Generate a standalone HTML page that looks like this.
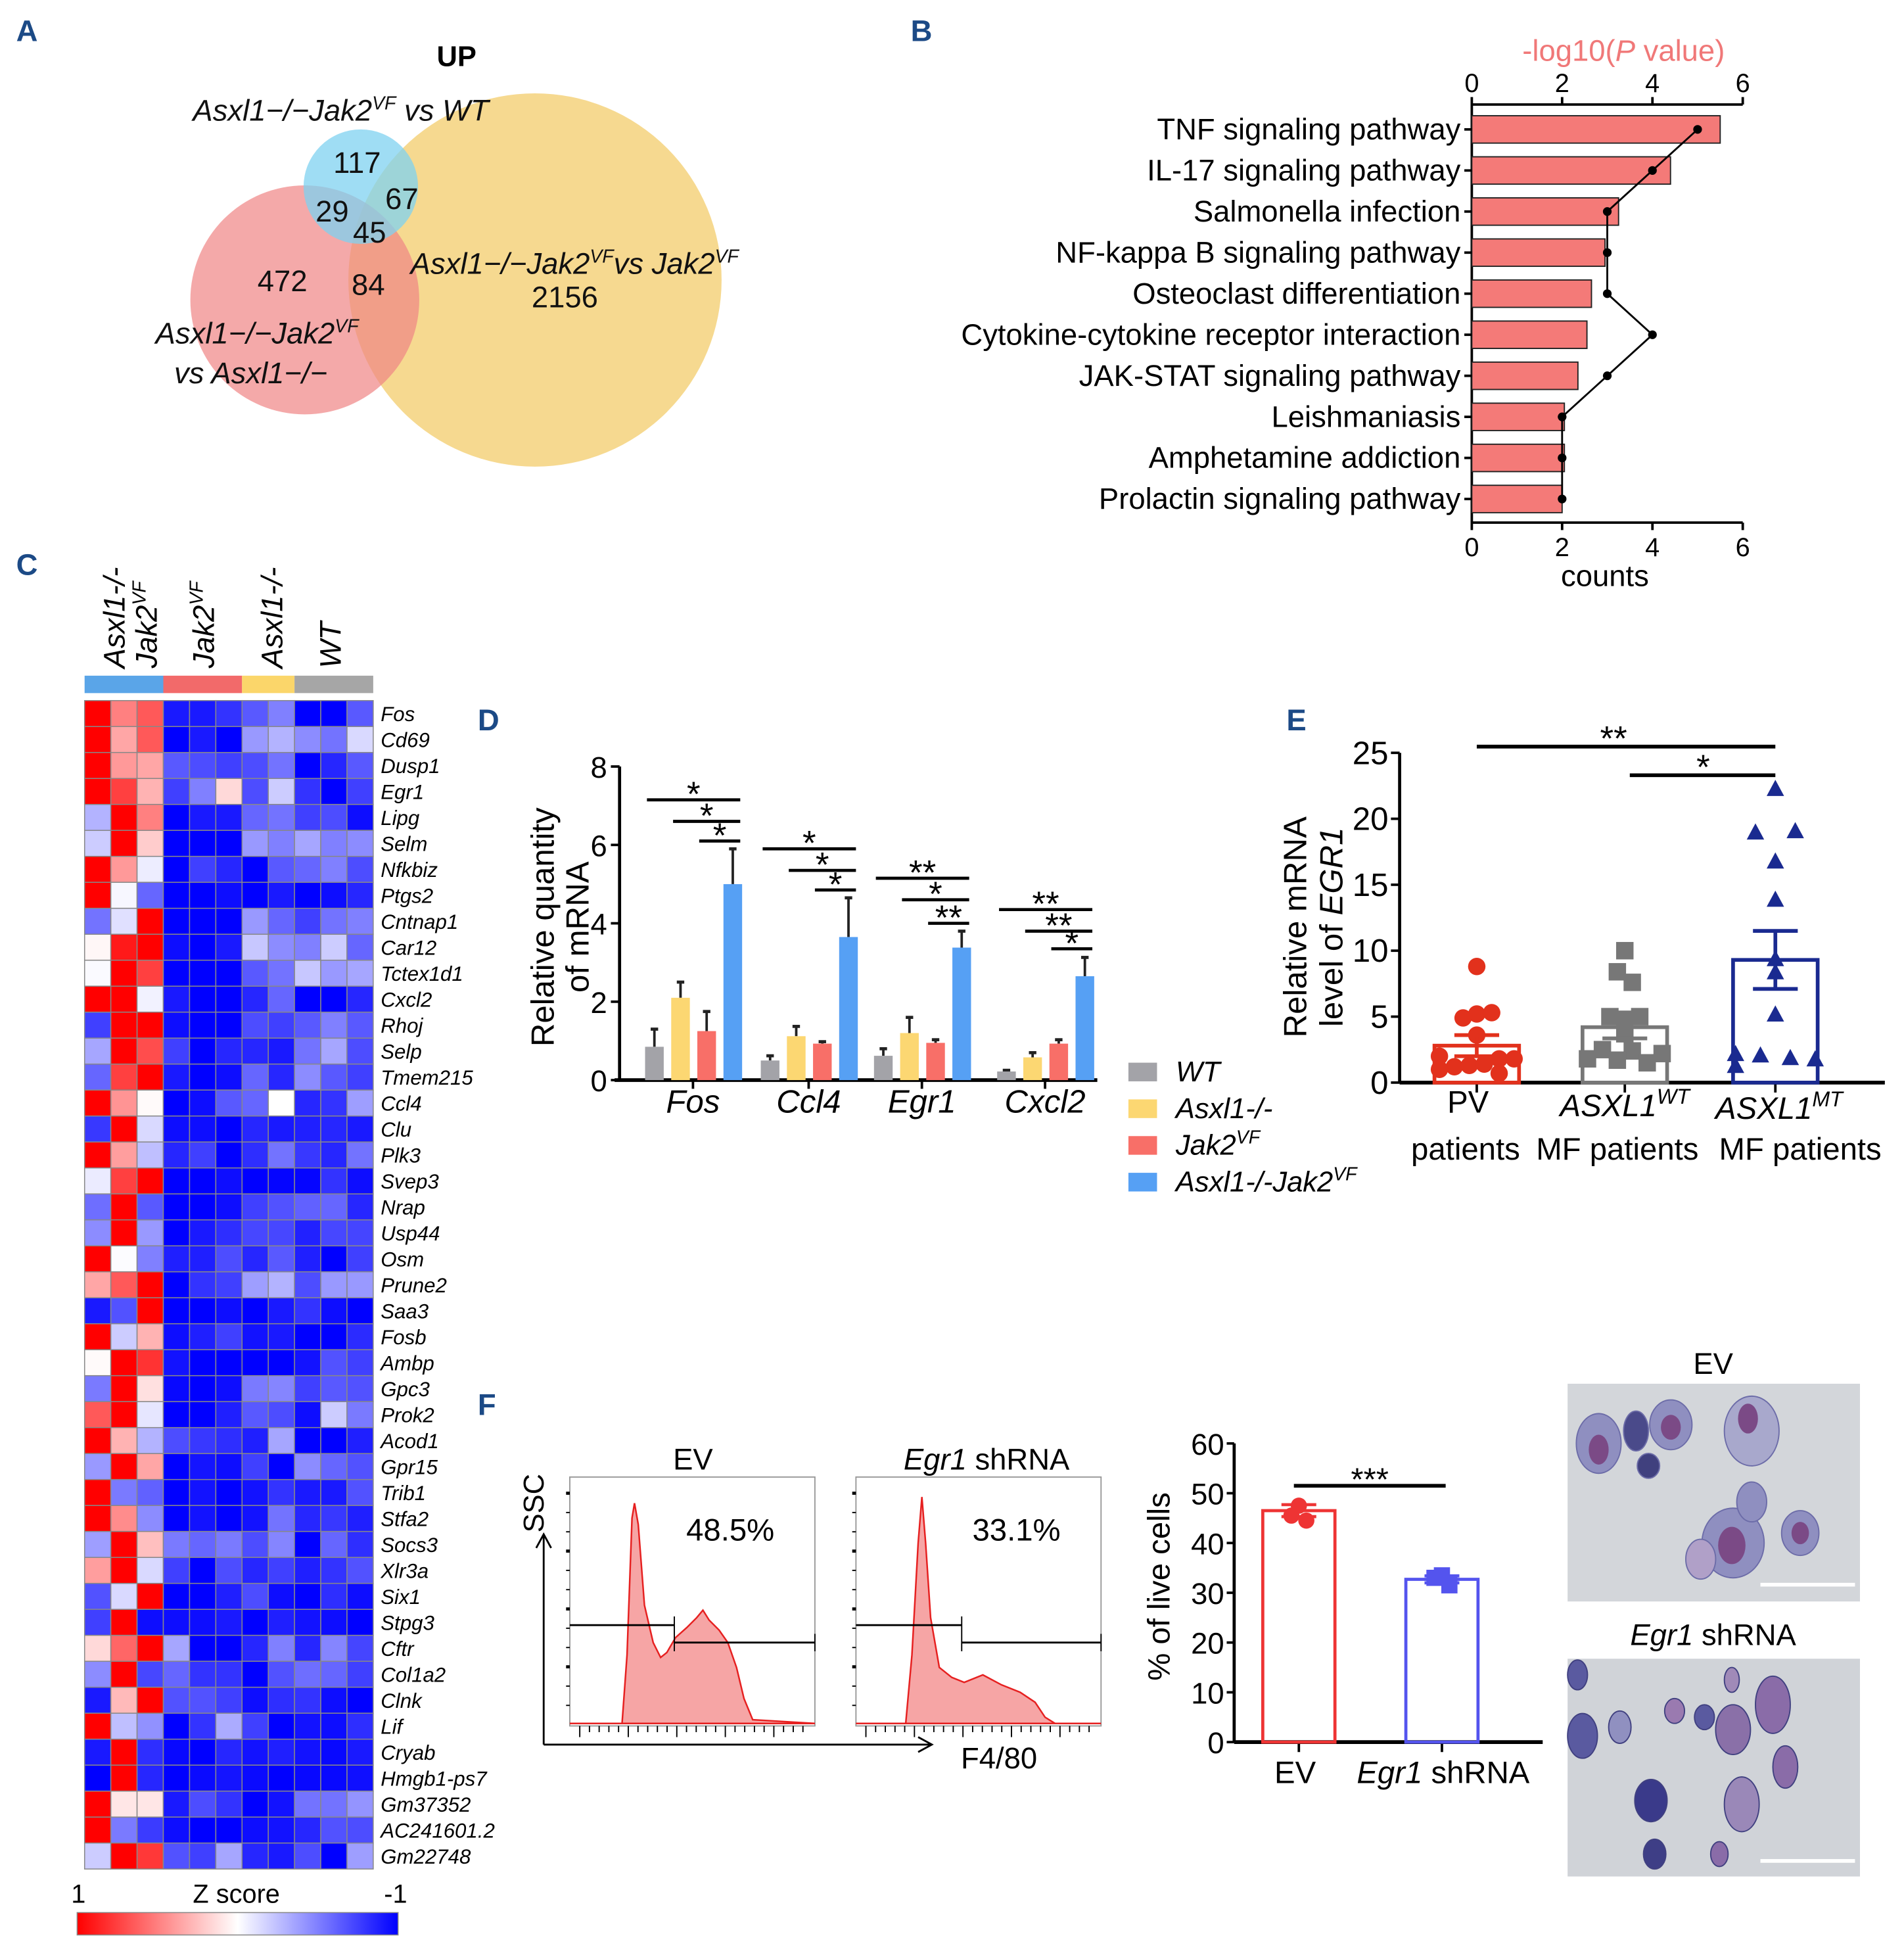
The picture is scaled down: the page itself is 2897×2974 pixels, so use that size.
<!DOCTYPE html>
<html><head><meta charset="utf-8"><style>
html,body{margin:0;padding:0;background:#fff}
svg{display:block}
text{font-family:"Liberation Sans",Arial,sans-serif}
.it{font-style:italic}
</style></head><body>
<svg id="fig" width="2897" height="2974" viewBox="0 0 1530.4 1571.1" preserveAspectRatio="none" xmlns="http://www.w3.org/2000/svg">
<rect x="0" y="0" width="1530.4" height="1571.1" fill="#fff"/>
<g fill="#1c4a86" font-weight="bold" font-size="24">
<text x="13" y="33">A</text>
<text x="732" y="33">B</text>
<text x="13" y="462">C</text>
<text x="384" y="587">D</text>
<text x="1034" y="587">E</text>
<text x="384" y="1137">F</text>
</g>
<g>
<text x="367" y="53" font-size="23" font-weight="bold" text-anchor="middle">UP</text>
<circle cx="430" cy="225" r="150" fill="#f5d27c" fill-opacity="0.85"/>
<circle cx="245" cy="241" r="92" fill="#f08585" fill-opacity="0.7"/>
<circle cx="290" cy="150" r="46" fill="#7fd1f0" fill-opacity="0.75"/>
<g font-size="24" fill="#111">
<text x="155" y="97" class="it">Asxl1−/−Jak2<tspan font-size="15" dy="-9">VF</tspan><tspan dy="9"> vs WT</tspan></text>
<text x="287" y="139" text-anchor="middle">117</text>
<text x="267" y="178" text-anchor="middle">29</text>
<text x="323" y="168" text-anchor="middle">67</text>
<text x="297" y="195" text-anchor="middle">45</text>
<text x="227" y="234" text-anchor="middle">472</text>
<text x="296" y="237" text-anchor="middle">84</text>
<text x="330" y="220" class="it">Asxl1−/−Jak2<tspan font-size="15" dy="-9">VF</tspan><tspan dy="9">vs Jak2</tspan><tspan font-size="15" dy="-9">VF</tspan></text>
<text x="454" y="247" text-anchor="middle">2156</text>
<text x="125" y="276" class="it">Asxl1−/−Jak2<tspan font-size="15" dy="-9">VF</tspan></text>
<text x="140" y="308" class="it">vs Asxl1−/−</text>
</g>
</g>
<g id="panelB"></g>
<g id="panelC"></g>
<g id="panelD"></g>
<g id="panelE"></g>
<g id="panelF"></g>
<g>
<text x="1377" y="1104" font-size="24" text-anchor="middle">EV</text>
<rect x="1260" y="1112" width="235" height="175" fill="#d3d6da"/>
<g fill="#8f8fc0" stroke="#6c6ca8" stroke-width="1">
<ellipse cx="1285" cy="1160" rx="18" ry="24"/><ellipse cx="1315" cy="1150" rx="10" ry="16" fill="#4a4a8a"/><ellipse cx="1343" cy="1145" rx="17" ry="20"/><ellipse cx="1325" cy="1178" rx="9" ry="10" fill="#40407e"/><ellipse cx="1408" cy="1150" rx="22" ry="28" fill="#a8a8cc"/><ellipse cx="1393" cy="1240" rx="25" ry="28"/><ellipse cx="1408" cy="1207" rx="12" ry="16"/><ellipse cx="1447" cy="1232" rx="15" ry="18"/><ellipse cx="1367" cy="1253" rx="12" ry="16" fill="#b0a0c8"/>
</g>
<g fill="#7b4a86"><ellipse cx="1285" cy="1165" rx="8" ry="12"/><ellipse cx="1343" cy="1147" rx="8" ry="10"/><ellipse cx="1405" cy="1140" rx="8" ry="12"/><ellipse cx="1392" cy="1242" rx="11" ry="15"/><ellipse cx="1447" cy="1232" rx="7" ry="9"/></g>
<rect x="1415" y="1272" width="76" height="3" fill="#fff"/>
<text x="1377" y="1322" font-size="24" text-anchor="middle"><tspan class="it">Egr1</tspan> shRNA</text>
<rect x="1260" y="1333" width="235" height="175" fill="#d0d3d8"/>
<g fill="#5a5aa0" stroke="#404080" stroke-width="1">
<ellipse cx="1268" cy="1346" rx="8" ry="12"/><ellipse cx="1272" cy="1395" rx="12" ry="18"/><ellipse cx="1302" cy="1388" rx="9" ry="13" fill="#9090c0"/><ellipse cx="1346" cy="1375" rx="8" ry="10" fill="#9a7ab0"/><ellipse cx="1370" cy="1380" rx="8" ry="10"/><ellipse cx="1393" cy="1390" rx="14" ry="20" fill="#8a70a8"/><ellipse cx="1425" cy="1370" rx="14" ry="23" fill="#8a6ca8"/><ellipse cx="1435" cy="1420" rx="10" ry="17" fill="#8a6ca8"/><ellipse cx="1327" cy="1447" rx="13" ry="17" fill="#3a3a8a"/><ellipse cx="1400" cy="1450" rx="14" ry="22" fill="#9a88b8"/><ellipse cx="1330" cy="1490" rx="9" ry="12" fill="#3e3e86"/><ellipse cx="1382" cy="1490" rx="7" ry="10" fill="#8a6ca8"/><ellipse cx="1392" cy="1350" rx="6" ry="10" fill="#a08ab8"/>
</g>
<rect x="1415" y="1494" width="76" height="3" fill="#fff"/>
</g>
</svg>
<script>
const pathways = ["TNF signaling pathway","IL-17 signaling pathway","Salmonella infection","NF-kappa B signaling pathway","Osteoclast differentiation","Cytokine-cytokine receptor interaction","JAK-STAT signaling pathway","Leishmaniasis","Amphetamine addiction","Prolactin signaling pathway"];
const pathwayPvals = [5.5,4.4,3.25,2.95,2.65,2.55,2.35,2.05,2.05,2.0];
const pathwayCounts = [5,4,3,3,3,4,3,2,2,2];
const bTicks = [0,2,4,6];
const genes = ["Fos","Cd69","Dusp1","Egr1","Lipg","Selm","Nfkbiz","Ptgs2","Cntnap1","Car12","Tctex1d1","Cxcl2","Rhoj","Selp","Tmem215","Ccl4","Clu","Plk3","Svep3","Nrap","Usp44","Osm","Prune2","Saa3","Fosb","Ambp","Gpc3","Prok2","Acod1","Gpr15","Trib1","Stfa2","Socs3","Xlr3a","Six1","Stpg3","Cftr","Col1a2","Clnk","Lif","Cryab","Hmgb1-ps7","Gm37352","AC241601.2","Gm22748"];
const zscores = [
[1,.5,.65,-.9,-.9,-.8,-.65,-.5,-1,-1,-.65],
[1,.35,.65,-1,-.9,-1,-.4,-.3,-.45,-.55,-.15],
[1,.4,.35,-.65,-.7,-.75,-.7,-.55,-1,-.85,-.65],
[1,.75,.3,-.75,-.5,.15,-.7,-.2,-.8,-1,-.75],
[-.3,1,.5,-1,-.9,-.9,-.6,-.55,-.75,-.7,-.95],
[-.2,1,.2,-1,-1,-1,-.4,-.5,-.35,-.5,-.45],
[1,.4,-.07,-1,-.75,-.85,-1,-.65,-.6,-.5,-.7],
[1,-.03,-.6,-1,-1,-.95,-1,-.9,-1,-.95,-.85],
[-.55,-.12,1,-1,-1,-1,-.4,-.6,-.75,-.55,-.5],
[.03,.9,1,-.95,-1,-.9,-.22,-.45,-.5,-.2,-.6],
[-.02,1,.75,-1,-1,-1,-.65,-.55,-.22,-.4,-.35],
[1,1,-.05,-.9,-1,-1,-.85,-.6,-1,-1,-.85],
[-.75,1,1,-.95,-1,-1,-.7,-.75,-.65,-.5,-.65],
[-.35,1,.7,-.75,-1,-.85,-.85,-.9,-.55,-.35,-.7],
[-.6,.75,1,-.9,-1,-.95,-.6,-.85,-.45,-.65,-.75],
[1,.42,.02,-1,-.95,-.65,-.6,0,-.85,-.8,-.38],
[-.78,1,-.15,-.95,-.95,-1,-.85,-.9,-.88,-.85,-.9],
[1,.38,-.25,-.85,-.75,-1,-.82,-.55,-.78,-.85,-.55],
[-.08,.75,1,-1,-1,-.95,-1,-.98,-.98,-.8,-.95],
[-.57,1,-.65,-1,-1,-.95,-.75,-.68,-.62,-.6,-.85],
[-.45,1,-.4,-1,-.9,-.82,-.72,-.72,-.87,-.72,-.73],
[1,-.01,-.5,-.88,-.88,-.7,-.85,-.65,-.88,-1,-.75],
[.35,.65,1,-1,-.8,-.75,-.38,-.3,-.7,-.4,-.4],
[-.9,-.68,1,-1,-1,-.95,-1,-.9,-.8,-.95,-1],
[1,-.2,.3,-.95,-.88,-.75,-.93,-.9,-1,-1,-.83],
[.02,1,.8,-.93,-1,-1,-1,-1,-.93,-.68,-.75],
[-.52,1,.12,-.97,-1,-.95,-.52,-.48,-.75,-.65,-.68],
[.65,1,-.1,-1,-1,-.88,-.65,-.7,-.95,-.2,-.52],
[1,.3,-.3,-.7,-.78,-.82,-.88,-.35,-1,-1,-.88],
[-.4,1,.35,-1,-.92,-.95,-.75,-1,-.45,-.6,-.68],
[1,-.52,-.62,-1,-.93,-1,-.93,-.8,-.9,-.9,-.68],
[1,.45,-.45,-1,-.93,-1,-.93,-.55,-.85,-.78,-.88],
[-.38,1,.25,-.52,-.6,-.52,-.7,-.48,-1,-.6,-.82],
[.38,1,-.15,-.75,-1,-.7,-.85,-.75,-.88,-.8,-.68],
[-.68,-.15,1,-1,-1,-.88,-.7,-.95,-1,-.82,-.95],
[-.75,1,-.95,-.95,-.95,-.9,-1,-.88,-.93,-.95,-1],
[.15,.6,1,-.35,-1,-1,-.85,-.5,-.85,-.48,-.73],
[-.45,1,-.72,-.6,-.8,-.8,-1,-.68,-.57,-.6,-.75],
[-.9,.27,1,-.68,-.68,-.75,-.95,-.82,-.8,-.95,-1],
[1,-.25,-.43,-1,-.8,-.33,-.75,-1,-.93,-.95,-.82],
[-.9,1,-.82,-.97,-1,-.85,-.93,-.88,-.93,-.97,-.9],
[-1,1,-.85,-1,-.96,-.92,-.96,-1,-.97,-.97,-.94],
[1,.1,.1,-.9,-.7,-.8,-1,-.93,-.55,-.55,-.42],
[1,-.52,-.77,-.95,-1,-1,-.95,-.93,-.85,-.68,-.7],
[-.2,1,.78,-.68,-.75,-.35,-.85,-.9,-.7,-1,-.38]];
const groupSizes = [3,3,2,3];
const dGenes = ["Fos","Ccl4","Egr1","Cxcl2"];
const dSeries = ["WT","Asxl1-/-","Jak2VF","Asxl1-/-Jak2VF"];
const dWT = [0.85,0.5,0.62,0.22];
const dAsxl1 = [2.1,1.12,1.2,0.58];
const dJak2 = [1.25,0.93,0.95,0.93];
const dDouble = [5.0,3.65,3.38,2.65];
const dErrWT = [0.45,0.12,0.18,0.03];
const dErrAsxl1 = [0.4,0.25,0.4,0.12];
const dErrJak2 = [0.5,0.05,0.08,0.1];
const dErrDouble = [0.9,1.0,0.42,0.48];
const dSigLevels = [[7.15,6.6,6.1],[5.9,5.35,4.85],[5.15,4.6,4.0],[4.35,3.8,3.35]];
const dSigLabels = [["*","*","*"],["*","*","*"],["**","*","**"],["**","**","*"]];
const dTicks = [0,2,4,6,8];
const eGroups = ["PV","WT","MT"];
const eMeans = [2.8,4.2,9.3];
const eSEM = [0.8,0.85,2.2];
const ePV = [8.8,4.9,5.2,5.3,3.6,2.0,1.8,1.2,1.3,1.4,1.8,1.0,0.7];
const eWT = [10,8.4,7.6,5.0,5.0,4.8,3.7,2.5,2.4,2.2,1.8,1.7,1.5];
const eMT = [22.2,18.9,19.0,16.7,13.8,9.3,8.3,5.1,2.1,2.0,1.8,1.7,1.2];
const eTicks = [0,5,10,15,20,25];
const fGroups = ["EV","Egr1 shRNA"];
const fMeans = [46.5,32.7];
const fSEM = [1.2,0.7];
const fEV = [47.5,45.5,44.5];
const fSh = [33.5,33.0,31.5];
const fTicks = [0,10,20,30,40,50,60];
const flowPct = ["48.5%","33.1%"];

const NS="http://www.w3.org/2000/svg";
function mk(parent,tag,attrs,txt){const e=document.createElementNS(NS,tag);for(const k in attrs)e.setAttribute(k,attrs[k]);if(txt!==undefined)e.textContent=txt;parent.appendChild(e);return e;}

(function(){
const g=document.getElementById('panelB');
const x0=1183,sx=36.3,yTop=84,yBot=420;
const X=v=>x0+v*sx;
const rowY=i=>104+i*33;
let t=mk(g,'text',{x:1305,y:49,'font-size':24,fill:'#f07878','text-anchor':'middle'});
t.innerHTML='-log10(<tspan font-style="italic">P</tspan> value)';


mk(g,'line',{x1:X(0),y1:yTop,x2:X(6),y2:yTop,stroke:'#000','stroke-width':2});
mk(g,'line',{x1:X(0),y1:yBot,x2:X(6),y2:yBot,stroke:'#000','stroke-width':2});
mk(g,'line',{x1:X(0),y1:yTop,x2:X(0),y2:yBot,stroke:'#000','stroke-width':2});
bTicks.forEach(v=>{
 mk(g,'line',{x1:X(v),y1:yTop,x2:X(v),y2:yTop-6,stroke:'#000','stroke-width':2});
 mk(g,'line',{x1:X(v),y1:yBot,x2:X(v),y2:yBot+6,stroke:'#000','stroke-width':2});
 const a=mk(g,'text',{x:X(v),y:yTop-10,'font-size':21,'text-anchor':'middle'},String(v));
 
 
 const b=mk(g,'text',{x:X(v),y:yBot+27,'font-size':21,'text-anchor':'middle'},String(v));
 
 
});
const c=mk(g,'text',{x:1290,y:471,'font-size':24,'text-anchor':'middle'},'counts');


pathways.forEach((p,i)=>{
 const r=mk(g,'rect',{x:X(0),y:rowY(i)-11,width:pathwayPvals[i]*sx,height:22,fill:'#f47a78',stroke:'#222','stroke-width':1});
 
 
 mk(g,'line',{x1:X(0)-6,y1:rowY(i),x2:X(0),y2:rowY(i),stroke:'#000','stroke-width':2});
 const l=mk(g,'text',{x:X(0)-9,y:rowY(i)+8,'font-size':24,'text-anchor':'end'},p);
 
 
});
let d='';pathwayCounts.forEach((v,i)=>{d+=(i?'L':'M')+X(v)+' '+rowY(i);});
const pl=mk(g,'path',{d:d,fill:'none',stroke:'#000','stroke-width':1.5});


pathwayCounts.forEach((v,i)=>{const p=mk(g,'circle',{cx:X(v),cy:rowY(i),r:3.5,fill:'#000'});
 
 });
})();

(function(){
const g=document.getElementById('panelC');
const x0=68,y0=563,cw=232/11,rh=939/45;
function col(v){if(v>=0){const c=Math.round(255*(1-v));return `rgb(255,${c},${c})`;}const c=Math.round(255*(1+v));return `rgb(${c},${c},255)`;}
const grpCol=['#5aa5e8','#f26a6a','#fbd66a','#a6a6a6'];
let cx=x0;groupSizes.forEach((n,k)=>{const r=mk(g,'rect',{x:cx,y:543,width:n*cw,height:14,fill:grpCol[k]});
 
 cx+=n*cw;});
zscores.forEach((row,i)=>row.forEach((v,j)=>{
 const r=mk(g,'rect',{x:x0+j*cw,y:y0+i*rh,width:cw,height:rh,fill:col(v),stroke:'#888','stroke-width':0.8});
 
 
}));
genes.forEach((gn,i)=>{const t=mk(g,'text',{x:306,y:y0+i*rh+rh/2+6,'font-size':16.5,'font-style':'italic'},gn);
 
 });
const hdr=[[100,'Asxl1-/-',''],[126,'Jak2','VF'],[172,'Jak2','VF'],[227,'Asxl1-/-',''],[274,'WT','']];
hdr.forEach(h=>{const t=mk(g,'text',{x:0,y:0,'font-size':24,'font-style':'italic',transform:`translate(${h[0]},537) rotate(-90)`});
 t.innerHTML=h[1]+(h[2]?`<tspan font-size="15" dy="-9">${h[2]}</tspan>`:'');
 
 });
const defs=mk(g,'defs',{});const lg=mk(defs,'linearGradient',{id:'zg',x1:0,x2:1,y1:0,y2:0});
mk(lg,'stop',{offset:0,'stop-color':'#ff0000'});mk(lg,'stop',{offset:0.5,'stop-color':'#ffffff'});mk(lg,'stop',{offset:1,'stop-color':'#0000ff'});
const lr=mk(g,'rect',{x:62,y:1537,width:258,height:18,fill:'url(#zg)',stroke:'#888','stroke-width':0.8});


[[63,'1'],[190,'Z score'],[318,'-1']].forEach(a=>{const t=mk(g,'text',{x:a[0],y:1529,'font-size':21,'text-anchor':'middle'},a[1]);
 
 });
})();

(function(){
const g=document.getElementById('panelD');
const ax=498,y0=868,sy=31.5,Y=v=>y0-v*sy;
const centers=[557,650,741,840];const offs=[-31,-10,11,32];
const cols=['#a3a3a8','#fcd772','#f86f68','#56a0f4'];
const vals=[dWT,dAsxl1,dJak2,dDouble],errs=[dErrWT,dErrAsxl1,dErrJak2,dErrDouble];
mk(g,'line',{x1:ax,y1:Y(8),x2:ax,y2:y0,stroke:'#000','stroke-width':2.5});
mk(g,'line',{x1:ax-4,y1:y0,x2:882,y2:y0,stroke:'#000','stroke-width':3});
dTicks.forEach(v=>{mk(g,'line',{x1:ax-7,y1:Y(v),x2:ax,y2:Y(v),stroke:'#000','stroke-width':2});
 const t=mk(g,'text',{x:ax-10,y:Y(v)+9,'font-size':24,'text-anchor':'end'},String(v));
 
 });
const yl=mk(g,'text',{x:0,y:0,'font-size':26,'text-anchor':'middle',transform:'translate(445,745) rotate(-90)'},'Relative quantity');


const yl2=mk(g,'text',{x:0,y:0,'font-size':26,'text-anchor':'middle',transform:'translate(473,745) rotate(-90)'},'of mRNA');


dGenes.forEach((gn,i)=>{
 mk(g,'line',{x1:centers[i],y1:y0,x2:centers[i],y2:y0+7,stroke:'#000','stroke-width':2});
 const t=mk(g,'text',{x:centers[i],y:894,'font-size':26,'font-style':'italic','text-anchor':'middle'},gn);
 
 
 vals.forEach((s,k)=>{
  const bx=centers[i]+offs[k];
  mk(g,'line',{x1:bx,y1:Y(s[i]),x2:bx,y2:Y(s[i]+errs[k][i]),stroke:'#222','stroke-width':2});
  mk(g,'line',{x1:bx-3,y1:Y(s[i]+errs[k][i]),x2:bx+3,y2:Y(s[i]+errs[k][i]),stroke:'#222','stroke-width':2.5});
  const r=mk(g,'rect',{x:bx-7.5,y:Y(s[i]),width:15,height:s[i]*sy,fill:cols[k]});
  
  
 });
 dSigLevels[i].forEach((lv,m)=>{
  const xs=centers[i]+offs[m]-6,xe=centers[i]+offs[3]+6;
  const l=mk(g,'line',{x1:xs,y1:Y(lv),x2:xe,y2:Y(lv),stroke:'#000','stroke-width':2.5});
  
  
  const s=mk(g,'text',{x:(xs+xe)/2,y:Y(lv)+5,'font-size':28,'text-anchor':'middle'},dSigLabels[i][m]);
  
  
 });
});
const labs=['WT','Asxl1-/-','Jak2<tspan font-size="15" dy="-9">VF</tspan>','Asxl1-/-Jak2<tspan font-size="15" dy="-9">VF</tspan>'];
labs.forEach((l,k)=>{const yy=865+k*29.5;
 const r=mk(g,'rect',{x:907,y:yy-11,width:23,height:15,fill:cols[k]});
 
 
 const t=mk(g,'text',{x:945,y:yy+4,'font-size':23,'font-style':'italic'});t.innerHTML=l;
 
 });
})();

(function(){
const g=document.getElementById('panelE');
const ax=1125,y0=870,sy=10.6,Y=v=>y0-v*sy;
const xs=[1187,1306,1427];const cols=['#e2311c','#777777','#1a2a90'];
const pts=[ePV,eWT,eMT];
const jit=[[0,-11,0,12,0,-30,18,-18,-6,6,30,-30,18],[0,-6,6,-12,12,0,0,-18,6,30,-30,-6,18],[0,-16,16,0,0,0,0,0,-32,-12,12,32,-32]];
mk(g,'line',{x1:ax,y1:Y(25),x2:ax,y2:y0,stroke:'#000','stroke-width':2.5});
mk(g,'line',{x1:ax,y1:y0,x2:1515,y2:y0,stroke:'#000','stroke-width':3});
eTicks.forEach(v=>{mk(g,'line',{x1:ax-7,y1:Y(v),x2:ax,y2:Y(v),stroke:'#000','stroke-width':2});
 const t=mk(g,'text',{x:ax-9,y:Y(v)+9,'font-size':26,'text-anchor':'end'},String(v));
 
 });
const t1=mk(g,'text',{x:0,y:0,'font-size':26,'text-anchor':'middle',transform:'translate(1050,745) rotate(-90)'},'Relative mRNA');


const t2=mk(g,'text',{x:0,y:0,'font-size':26,'text-anchor':'middle',transform:'translate(1079,745) rotate(-90)'});
t2.innerHTML='level of <tspan font-style="italic">EGR1</tspan>';


eGroups.forEach((gr,i)=>{
 mk(g,'line',{x1:xs[i],y1:y0,x2:xs[i],y2:y0+8,stroke:'#000','stroke-width':2});
 const b=mk(g,'rect',{x:xs[i]-34,y:Y(eMeans[i]),width:68,height:eMeans[i]*sy,fill:'none',stroke:cols[i],'stroke-width':3});
 
 
 pts[i].forEach((v,k)=>{
  const px=xs[i]+jit[i][k];const py=Y(v);let m;
  if(i===0)m=mk(g,'circle',{cx:px,cy:py,r:7,fill:cols[0]});
  else if(i===1)m=mk(g,'rect',{x:px-7,y:py-7,width:14,height:14,fill:cols[1]});
  else m=mk(g,'path',{d:`M${px} ${py-8}L${px+7} ${py+5}L${px-7} ${py+5}Z`,fill:cols[2]});
  
  
 });
 const hi=Y(eMeans[i]+eSEM[i]),lo=Y(eMeans[i]-eSEM[i]);
 mk(g,'line',{x1:xs[i],y1:hi,x2:xs[i],y2:lo,stroke:cols[i],'stroke-width':3});
 mk(g,'line',{x1:xs[i]-18,y1:hi,x2:xs[i]+18,y2:hi,stroke:cols[i],'stroke-width':3});
 mk(g,'line',{x1:xs[i]-18,y1:lo,x2:xs[i]+18,y2:lo,stroke:cols[i],'stroke-width':3});
});
const s1=mk(g,'line',{x1:1187,y1:600,x2:1427,y2:600,stroke:'#000','stroke-width':3});


const s2=mk(g,'line',{x1:1310,y1:623,x2:1427,y2:623,stroke:'#000','stroke-width':3});


mk(g,'text',{x:1297,y:603,'font-size':28,'text-anchor':'middle'},'**');
mk(g,'text',{x:1369,y:626,'font-size':28,'text-anchor':'middle'},'*');
const xl=[[1180,894,'PV'],[1178,932,'patients'],[1300,932,'MF patients'],[1447,932,'MF patients']];
xl.forEach(a=>{const t=mk(g,'text',{x:a[0],y:a[1],'font-size':25,'text-anchor':'middle'},a[2]);
 
 });
const w=mk(g,'text',{x:1306,y:897,'font-size':25,'text-anchor':'middle','font-style':'italic'});w.innerHTML='ASXL1<tspan font-size="17" dy="-10">WT</tspan>';


const m=mk(g,'text',{x:1430,y:899,'font-size':25,'text-anchor':'middle','font-style':'italic'});m.innerHTML='ASXL1<tspan font-size="17" dy="-10">MT</tspan>';


})();

(function(){
const g=document.getElementById('panelF');
const boxes=[458,688];
boxes.forEach((bx,i)=>{
 const r=mk(g,'rect',{x:bx,y:1187,width:197,height:200,fill:'none',stroke:'#999','stroke-width':1});
 
 
 for(let k=0;k<12;k++){mk(g,'line',{x1:bx-3,y1:1200+k*15.5,x2:bx,y2:1200+k*15.5,stroke:'#000','stroke-width':k%3==0?2.5:1});}
 for(let k=0;k<24;k++){const tx=bx+8+k*7.8;mk(g,'line',{x1:tx,y1:1387,x2:tx,y2:1387+(k%5==0?9:5),stroke:'#000','stroke-width':1});}
 const p=mk(g,'text',{x:bx+129,y:1238,'font-size':25,'text-anchor':'middle'},flowPct[i]);
 
 
});
const h1='M458 1385 L500 1385 L504 1330 L508 1220 L510 1208 L513 1225 L518 1290 L525 1320 L531 1332 L536 1328 L543 1316 L552 1308 L560 1300 L565 1294 L570 1302 L578 1310 L585 1320 L592 1340 L598 1365 L605 1382 L655 1385 Z';
const h2='M688 1385 L728 1385 L733 1330 L738 1240 L741 1203 L744 1240 L748 1300 L755 1340 L765 1348 L775 1352 L790 1346 L805 1354 L820 1360 L832 1368 L840 1380 L848 1385 L885 1385 Z';
[h1,h2].forEach(d=>{const p=mk(g,'path',{d:d,fill:'#f6a5a5',stroke:'#e62020','stroke-width':1.3});
 
 });
[[458,542,655],[688,773,885]].forEach(a=>{
 mk(g,'line',{x1:a[0],y1:1306,x2:a[1],y2:1306,stroke:'#000','stroke-width':1.5});
 mk(g,'line',{x1:a[1],y1:1320,x2:a[2],y2:1320,stroke:'#000','stroke-width':1.5});
 mk(g,'line',{x1:a[1],y1:1299,x2:a[1],y2:1327,stroke:'#000','stroke-width':1});
 mk(g,'line',{x1:a[2],y1:1313,x2:a[2],y2:1327,stroke:'#000','stroke-width':1});
});
mk(g,'text',{x:557,y:1181,'font-size':24,'text-anchor':'middle'},'EV');
const st=mk(g,'text',{x:793,y:1181,'font-size':24,'text-anchor':'middle'});st.innerHTML='<tspan font-style="italic">Egr1</tspan> shRNA';
mk(g,'text',{x:0,y:0,'font-size':23,'text-anchor':'middle',transform:'translate(437,1208) rotate(-90)'},'SSC');
mk(g,'path',{d:'M437 1402 L437 1233 M431 1244 L437 1233 L443 1244 M437 1402 L749 1402 M738 1396 L749 1402 L738 1408',fill:'none',stroke:'#000','stroke-width':1.5});
mk(g,'text',{x:803,y:1421,'font-size':24,'text-anchor':'middle'},'F4/80');
const ax=992,y0=1400,sy=4,Y=v=>y0-v*sy;const xs=[1044,1159];const cols=['#ee3434','#5454ee'];
mk(g,'line',{x1:ax,y1:Y(60),x2:ax,y2:y0,stroke:'#000','stroke-width':2.5});
mk(g,'line',{x1:ax,y1:y0,x2:1240,y2:y0,stroke:'#000','stroke-width':3});
fTicks.forEach(v=>{mk(g,'line',{x1:ax-6,y1:Y(v),x2:ax,y2:Y(v),stroke:'#000','stroke-width':2});
 const t=mk(g,'text',{x:ax-8,y:Y(v)+9,'font-size':24,'text-anchor':'end'},String(v));
 
 });
const yl=mk(g,'text',{x:0,y:0,'font-size':25,'text-anchor':'middle',transform:'translate(940,1275) rotate(-90)'},'% of live cells');


const fp=[fEV,fSh];const jit=[0,-6,6];
fGroups.forEach((gr,i)=>{
 mk(g,'line',{x1:xs[i],y1:y0,x2:xs[i],y2:y0+8,stroke:'#000','stroke-width':2});
 const b=mk(g,'rect',{x:xs[i]-29,y:Y(fMeans[i]),width:58,height:fMeans[i]*sy,fill:'none',stroke:cols[i],'stroke-width':2.5});
 
 
 fp[i].forEach((v,k)=>{let m;const px=xs[i]+jit[k],py=Y(v);
  if(i===0)m=mk(g,'circle',{cx:px,cy:py,r:6.5,fill:cols[0]});else m=mk(g,'rect',{x:px-6.5,y:py-6.5,width:13,height:13,fill:cols[1]});
  
  });
 mk(g,'line',{x1:xs[i]-14,y1:Y(fMeans[i]+fSEM[i]),x2:xs[i]+14,y2:Y(fMeans[i]+fSEM[i]),stroke:cols[i],'stroke-width':2.5});
 mk(g,'line',{x1:xs[i]-14,y1:Y(fMeans[i]-fSEM[i]),x2:xs[i]+14,y2:Y(fMeans[i]-fSEM[i]),stroke:cols[i],'stroke-width':2.5});
});
const sl=mk(g,'line',{x1:1040,y1:1194,x2:1162,y2:1194,stroke:'#000','stroke-width':3});


mk(g,'text',{x:1101,y:1198,'font-size':26,'text-anchor':'middle'},'***');
mk(g,'text',{x:1041,y:1433,'font-size':25,'text-anchor':'middle'},'EV');
const x2=mk(g,'text',{x:1160,y:1433,'font-size':25,'text-anchor':'middle'});x2.innerHTML='<tspan font-style="italic">Egr1</tspan> shRNA';


})();
</script>
</body></html>
